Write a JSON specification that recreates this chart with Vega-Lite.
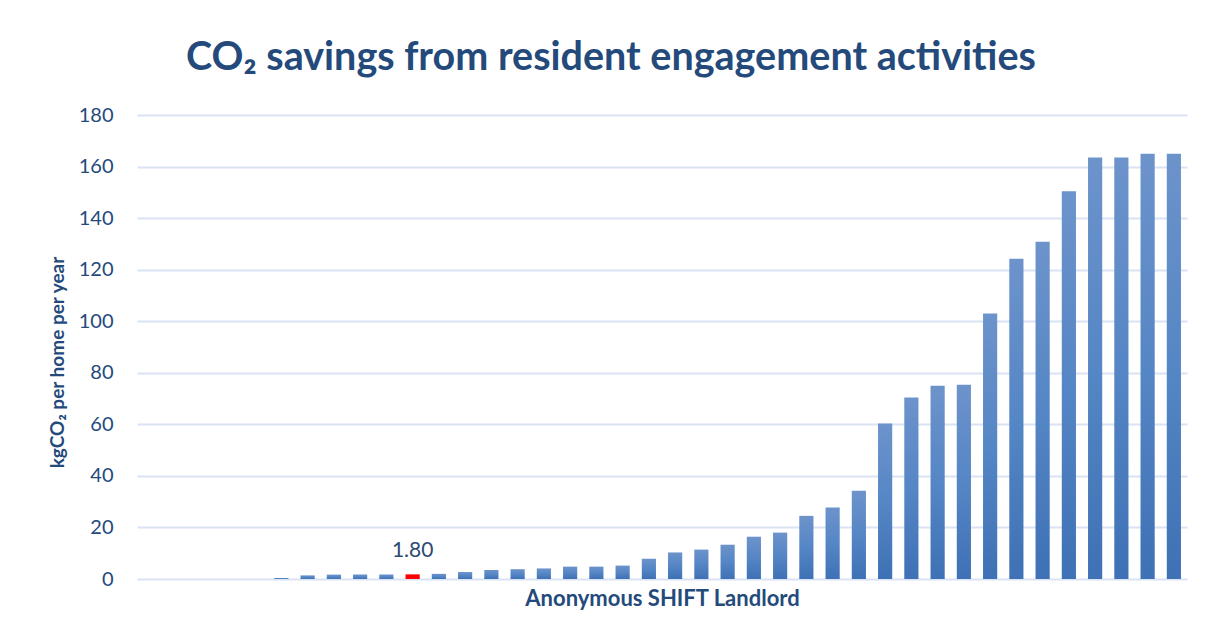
{
  "$schema": "https://vega.github.io/schema/vega-lite/v6.json",
  "autosize": "none",
  "width": 1050,
  "height": 464,
  "padding": {"left": 137, "top": 115, "right": 18, "bottom": 60},
  "background": "white",
  "title": {
    "text": "CO₂ savings from resident engagement activities",
    "font": "Lato",
    "fontSize": 39.5,
    "fontWeight": "bold",
    "color": "#244A7C",
    "anchor": "middle",
    "dx": -51,
    "offset": 27
  },
  "data": {
    "values": [
      {"landlord": 1, "saving": 0, "highlight": false},
      {"landlord": 2, "saving": 0, "highlight": false},
      {"landlord": 3, "saving": 0, "highlight": false},
      {"landlord": 4, "saving": 0, "highlight": false},
      {"landlord": 5, "saving": 0, "highlight": false},
      {"landlord": 6, "saving": 0.4, "highlight": false},
      {"landlord": 7, "saving": 1.4, "highlight": false},
      {"landlord": 8, "saving": 1.7, "highlight": false},
      {"landlord": 9, "saving": 1.75, "highlight": false},
      {"landlord": 10, "saving": 1.78, "highlight": false},
      {"landlord": 11, "saving": 1.8, "highlight": true},
      {"landlord": 12, "saving": 2.0, "highlight": false},
      {"landlord": 13, "saving": 2.7, "highlight": false},
      {"landlord": 14, "saving": 3.5, "highlight": false},
      {"landlord": 15, "saving": 3.8, "highlight": false},
      {"landlord": 16, "saving": 4.1, "highlight": false},
      {"landlord": 17, "saving": 4.8, "highlight": false},
      {"landlord": 18, "saving": 4.8, "highlight": false},
      {"landlord": 19, "saving": 5.2, "highlight": false},
      {"landlord": 20, "saving": 7.9, "highlight": false},
      {"landlord": 21, "saving": 10.3, "highlight": false},
      {"landlord": 22, "saving": 11.4, "highlight": false},
      {"landlord": 23, "saving": 13.3, "highlight": false},
      {"landlord": 24, "saving": 16.4, "highlight": false},
      {"landlord": 25, "saving": 18.0, "highlight": false},
      {"landlord": 26, "saving": 24.5, "highlight": false},
      {"landlord": 27, "saving": 27.7, "highlight": false},
      {"landlord": 28, "saving": 34.2, "highlight": false},
      {"landlord": 29, "saving": 60.3, "highlight": false},
      {"landlord": 30, "saving": 70.4, "highlight": false},
      {"landlord": 31, "saving": 75.0, "highlight": false},
      {"landlord": 32, "saving": 75.4, "highlight": false},
      {"landlord": 33, "saving": 103.0, "highlight": false},
      {"landlord": 34, "saving": 124.2, "highlight": false},
      {"landlord": 35, "saving": 130.8, "highlight": false},
      {"landlord": 36, "saving": 150.4, "highlight": false},
      {"landlord": 37, "saving": 163.5, "highlight": false},
      {"landlord": 38, "saving": 163.5, "highlight": false},
      {"landlord": 39, "saving": 165.0, "highlight": false},
      {"landlord": 40, "saving": 165.0, "highlight": false}
    ]
  },
  "encoding": {
    "x": {
      "field": "landlord",
      "type": "ordinal",
      "scale": {
        "domain": [1, 2, 3, 4, 5, 6, 7, 8, 9, 10, 11, 12, 13, 14, 15, 16, 17, 18, 19, 20, 21, 22, 23, 24, 25, 26, 27, 28, 29, 30, 31, 32, 33, 34, 35, 36, 37, 38, 39, 40],
        "paddingInner": 0.46,
        "paddingOuter": 0.23
      },
      "axis": {
        "title": "Anonymous SHIFT Landlord",
        "labels": false,
        "ticks": false,
        "domain": false,
        "grid": false,
        "titleFont": "Lato",
        "titleFontSize": 22,
        "titleFontWeight": "bold",
        "titleColor": "#244A7C",
        "titlePadding": 9
      }
    },
    "y": {
      "field": "saving",
      "type": "quantitative",
      "scale": {"domain": [0, 180], "nice": false},
      "axis": {
        "title": "kgCO₂ per home per year",
        "values": [0, 20, 40, 60, 80, 100, 120, 140, 160, 180],
        "ticks": false,
        "tickSize": 0,
        "domain": false,
        "labelPadding": 24,
        "labelFont": "Lato",
        "labelFontSize": 20,
        "labelColor": "#244A7C",
        "titleFont": "Lato",
        "titleFontSize": 19,
        "titleFontWeight": "bold",
        "titleColor": "#244A7C",
        "titlePadding": 11,
        "titleY": 247,
        "gridColor": "#D9E3F3",
        "gridWidth": 2
      }
    }
  },
  "layer": [
    {
      "mark": {
        "type": "bar",
        "color": {
          "gradient": "linear",
          "x1": 0, "y1": 0, "x2": 0, "y2": 1,
          "stops": [
            {"offset": 0, "color": "#6D93CB"},
            {"offset": 0.5, "color": "#5586C5"},
            {"offset": 1, "color": "#3E71B5"}
          ]
        }
      },
      "transform": [{"filter": "!datum.highlight"}]
    },
    {
      "mark": {"type": "bar", "color": "#FF0000"},
      "transform": [{"filter": "datum.highlight"}]
    },
    {
      "mark": {
        "type": "text",
        "baseline": "alphabetic",
        "dy": -17,
        "font": "Lato",
        "fontSize": 21,
        "color": "#2E4A72"
      },
      "transform": [{"filter": "datum.highlight"}],
      "encoding": {
        "text": {"field": "saving", "type": "quantitative", "format": ".2f"}
      }
    }
  ],
  "config": {
    "view": {"stroke": null}
  }
}
